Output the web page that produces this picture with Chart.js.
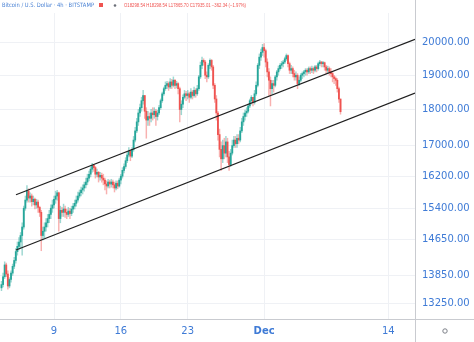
<!DOCTYPE html>
<html>
<head>
<meta charset="utf-8">
<script src="https://cdn.jsdelivr.net/npm/chart.js@4.4.0/dist/chart.umd.min.js"></script>
<style>
  html, body { margin: 0; padding: 0; background: #fff; }
</style>
</head>
<body>
<canvas id="btcChart" width="474" height="342"></canvas>
<script>
// BTC/USD 4h candles, Bitstamp. Time axis in days counted from Nov 1 (Nov 1 = 0).
const startDay = 2.5;       // first candle: Nov 3, 12:00
const candlesPerDay = 6;
const firstOpen = 13580;

// one row per day
const closes = [
  13650, 13820, 14080,
  13880, 13620, 13760, 13900, 14050, 14180,
  14380, 14500, 14600, 14750, 14950, 15400,
  15600, 15820, 15650, 15700, 15560, 15620,
  15480, 15550, 15420, 15300, 14750, 14850,
  14950, 15050, 15150, 15250, 15400, 15480,
  15620, 15700, 15780, 15150, 15350, 15300,
  15380, 15300, 15250, 15330, 15270, 15380,
  15450, 15520, 15600, 15700, 15780, 15850,
  15900, 15980, 16050, 16150, 16250, 16380,
  16480, 16420, 16250, 16300, 16180, 16220,
  16150, 16100, 16000, 15950, 16050, 16000,
  16050, 15980, 15900, 16020, 15950, 16100,
  16200, 16350, 16450, 16600, 16750, 16850,
  16720, 16900, 17150, 17400, 17650, 17900,
  18050, 18250, 18400, 17950, 17700, 17800,
  17750, 17900, 17850, 17950, 17800, 17900,
  18050, 18250, 18450, 18600, 18700, 18750,
  18650, 18800, 18700, 18850, 18700, 18750,
  18600, 18000, 18150, 18350, 18450, 18400,
  18450, 18350, 18500, 18400, 18550, 18450,
  18600, 18950, 19300, 19450, 19400, 19000,
  18950, 19300, 19450, 19250, 18700, 18300,
  17900, 17300, 16900, 16650, 17000, 16800,
  17100, 16700, 16500, 16800, 17000, 17150,
  17050, 17200, 17150, 17400, 17650, 17800,
  17900, 17950, 18100, 18250, 18350, 18200,
  18450, 18700, 19300, 19550, 19700, 19850,
  19750, 19400, 19100, 18850, 18600, 18750,
  18700, 18950, 19100, 19200, 19300, 19350,
  19400, 19500, 19600, 19350, 19150, 19200,
  19050, 18950, 19000, 18750, 18850, 19000,
  19050, 19100, 19150, 19100, 19200, 19150,
  19200, 19150, 19250, 19200, 19350, 19400,
  19350, 19380, 19250, 19150, 19200, 19100,
  19050, 18950, 18900, 18850, 18600, 18298.54,
  17935.01
];

const highs = [
  13720, 13900, 14150,
  14120, 13950, 13800, 13950, 14100, 14250,
  14450, 14600, 14700, 14820, 15050, 15450,
  15700, 15960, 15880, 15780, 15750, 15700,
  15650, 15620, 15600, 15450, 15350, 14950,
  15050, 15150, 15250, 15350, 15480, 15600,
  15700, 15820, 15840, 15800, 15450, 15420,
  15500, 15450, 15380, 15420, 15400, 15450,
  15520, 15600, 15700, 15800, 15850, 15920,
  15980, 16050, 16150, 16250, 16330, 16440,
  16530, 16500, 16450, 16380, 16320, 16300,
  16280, 16250, 16150, 16080, 16120, 16100,
  16120, 16100, 16050, 16080, 16080, 16150,
  16250, 16420, 16520, 16680, 16820, 16950,
  16880, 16950, 17250, 17500, 17750, 18000,
  18150, 18350, 18550, 18400, 18050, 17950,
  17900, 18000, 18050, 18050, 18000, 17980,
  18120, 18300, 18500, 18650, 18800, 18820,
  18800, 18900, 18880, 18950, 18880, 18820,
  18780, 18650, 18250, 18420, 18550, 18520,
  18550, 18500, 18600, 18550, 18650, 18600,
  18700, 19000, 19400, 19550, 19500, 19450,
  19100, 19350, 19500, 19480, 19300, 18750,
  18400, 17950, 17450, 17100, 17150, 17200,
  17250, 17200, 16850, 16900, 17150, 17250,
  17250, 17300, 17300, 17500, 17750, 17900,
  17980, 18050, 18150, 18300, 18400, 18350,
  18550, 18800, 19350, 19650, 19800, 19950,
  19970, 19800, 19500, 19200, 18950, 18850,
  18850, 19000, 19150, 19280, 19350, 19420,
  19450, 19550, 19650, 19620, 19400, 19300,
  19250, 19150, 19100, 19050, 18950, 19050,
  19100, 19150, 19200, 19200, 19250, 19250,
  19280, 19250, 19300, 19300, 19400, 19450,
  19420, 19420, 19400, 19300, 19280, 19250,
  19200, 19100, 19000, 18950, 18900, 18650,
  18298.54
];

const lows = [
  13520, 13600, 13780,
  13820, 13550, 13580, 13700, 13850, 14000,
  14120, 14300, 14420, 14450, 14300, 14900,
  15350, 15550, 15550, 15550, 15450, 15480,
  15380, 15400, 15300, 15200, 14400, 14650,
  14700, 14850, 14950, 15050, 15150, 15300,
  15400, 15520, 15600, 14850, 15050, 15200,
  15200, 15180, 15150, 15200, 15150, 15220,
  15300, 15380, 15450, 15550, 15650, 15700,
  15750, 15820, 15900, 15980, 16080, 16180,
  16300, 16320, 16150, 16180, 16050, 16100,
  16050, 15980, 15850, 15750, 15900, 15900,
  15920, 15900, 15800, 15850, 15880, 15920,
  16000, 16150, 16280, 16400, 16550, 16700,
  16600, 16680, 16850, 17100, 17350, 17550,
  17800, 17950, 18150, 17750, 17200, 17550,
  17550, 17650, 17700, 17750, 17550, 17700,
  17850, 18000, 18200, 18400, 18550, 18600,
  18550, 18600, 18600, 18650, 18600, 18620,
  18450, 17650, 17850, 18050, 18300, 18250,
  18300, 18200, 18300, 18300, 18350, 18350,
  18400, 18550, 18900, 19200, 19300, 18900,
  18800, 18900, 19200, 19150, 18600, 18200,
  17700, 17150, 16700, 16350, 16550, 16650,
  16700, 16550, 16350, 16450, 16750, 16950,
  16950, 16950, 17050, 17100, 17350, 17550,
  17700, 17800, 17900, 18050, 18150, 18100,
  18150, 18400, 18650, 19200, 19450, 19600,
  19550, 19250, 18950, 18400, 18100, 18450,
  18500, 18650, 18850, 19000, 19150, 19200,
  19250, 19350, 19450, 19250, 19050, 19050,
  18950, 18850, 18850, 18600, 18700, 18800,
  18900, 18950, 19000, 19000, 19050, 19050,
  19080, 19050, 19100, 19100, 19150, 19300,
  19250, 19250, 19150, 19050, 19050, 19000,
  18950, 18800, 18750, 18700, 18500, 18200,
  17865.70
];

// drawn trend channel, [day, price] end points
const channelUpper = [[4.02, 15730], [45.8, 20106]];
const channelLower = [[4.02, 14418], [45.8, 18471]];

const priceTicks = [13250, 13850, 14650, 15400, 16200, 17000, 18000, 19000, 20000];
const dateTicks = [8, 15, 22, 30, 43];
const dateLabels = ['9', '16', '23', 'Dec', '14'];

const UP = '#26a69a';
const DOWN = '#ef5350';
const AXIS_TEXT = '#3f7bd6';

const candles = closes.map((c, i) => {
    const o = i === 0 ? firstOpen : closes[i - 1];
    return {
        x: startDay + i / candlesPerDay,
        o: o,
        h: Math.max(highs[i], o, c),
        l: Math.min(lows[i], o, c),
        c: c
    };
});
const last = candles[candles.length - 1];

// white background, pane separators, header line and settings icon
const chrome = {
    id: 'chrome',
    beforeDraw(chart) {
        const c = chart.ctx;
        c.save();
        c.fillStyle = '#ffffff';
        c.fillRect(0, 0, chart.width, chart.height);
        c.restore();
    },
    afterDraw(chart) {
        const c = chart.ctx;
        const a = chart.chartArea;
        c.save();
        c.strokeStyle = '#c9cbd0';
        c.lineWidth = 1;
        c.beginPath();
        c.moveTo(0, a.bottom + 0.5);
        c.lineTo(chart.width, a.bottom + 0.5);
        c.moveTo(a.right + 0.5, 0);
        c.lineTo(a.right + 0.5, chart.height);
        c.stroke();

        c.textBaseline = 'middle';
        c.font = '6px "DejaVu Sans"';
        c.fillStyle = '#4a82d4';
        c.fillText('Bitcoin / U.S. Dollar · 4h · BITSTAMP', 2, 5.5, 92);
        c.fillStyle = DOWN;
        c.fillRect(99, 3, 4, 4);
        c.fillStyle = '#6b6f78';
        c.beginPath();
        c.arc(115, 5.5, 1.3, 0, Math.PI * 2);
        c.fill();
        c.fillStyle = DOWN;
        c.font = '5px "Liberation Sans"';
        const ohlc = 'O' + last.o.toFixed(2) + ' H' + last.h.toFixed(2) +
            ' L' + last.l.toFixed(2) + ' C' + last.c.toFixed(2) + ' \u2212362.34 (\u22121.97%)';
        c.fillText(ohlc, 124, 5.5, 122);

        c.strokeStyle = '#7d8088';
        c.beginPath();
        c.arc(445, 331, 2.2, 0, Math.PI * 2);
        c.stroke();
        c.restore();
    }
};

const ctx = document.getElementById('btcChart').getContext('2d');
const btcChart = new Chart(ctx, {
    type: 'bar',
    data: {
        datasets: [
            {
                type: 'line',
                data: channelUpper.map(p => ({ x: p[0], y: p[1] })),
                borderColor: '#1f1f1f',
                borderWidth: 1.2,
                pointRadius: 0,
                order: 0
            },
            {
                type: 'line',
                data: channelLower.map(p => ({ x: p[0], y: p[1] })),
                borderColor: '#1f1f1f',
                borderWidth: 1.2,
                pointRadius: 0,
                order: 0
            },
            {
                // wicks
                data: candles.map(k => ({ x: k.x, y: [k.l, k.h] })),
                backgroundColor: candles.map(k => k.c >= k.o ? 'rgba(38,166,154,0.45)' : 'rgba(239,83,80,0.45)'),
                barThickness: 0.8,
                grouped: false,
                order: 2
            },
            {
                // bodies
                data: candles.map(k => ({ x: k.x, y: [k.o, k.c] })),
                backgroundColor: candles.map(k => k.c >= k.o ? UP : DOWN),
                barThickness: 1.2,
                grouped: false,
                order: 1
            }
        ]
    },
    options: {
        responsive: false,
        devicePixelRatio: 1,
        animation: false,
        layout: { padding: 0 },
        plugins: {
            legend: { display: false },
            tooltip: { enabled: false }
        },
        scales: {
            x: {
                type: 'linear',
                min: 2.345,
                max: 45.8,
                offset: false,
                afterBuildTicks: s => { s.ticks = dateTicks.map(v => ({ value: v })); },
                afterFit: s => { s.height = 23; },
                grid: { color: '#eff1f5', drawTicks: false, offset: false },
                border: { display: false },
                ticks: {
                    autoSkip: false,
                    maxRotation: 0,
                    padding: 6,
                    color: AXIS_TEXT,
                    font: c => ({ family: 'DejaVu Sans', size: 10, weight: dateLabels[c.index] === 'Dec' ? 'bold' : 'normal' }),
                    callback: (v, i) => dateLabels[i]
                }
            },
            y: {
                type: 'logarithmic',
                position: 'right',
                min: 12928,
                max: 20962,
                afterBuildTicks: s => { s.ticks = priceTicks.map(v => ({ value: v })); },
                afterFit: s => { s.width = 59; },
                grid: { color: '#eff1f5', drawTicks: false },
                border: { display: false },
                ticks: {
                    autoSkip: false,
                    padding: 7,
                    color: AXIS_TEXT,
                    font: { family: 'DejaVu Sans', size: 10 },
                    callback: v => Number(v).toFixed(2)
                }
            }
        }
    },
    plugins: [chrome]
});
</script>
</body>
</html>
